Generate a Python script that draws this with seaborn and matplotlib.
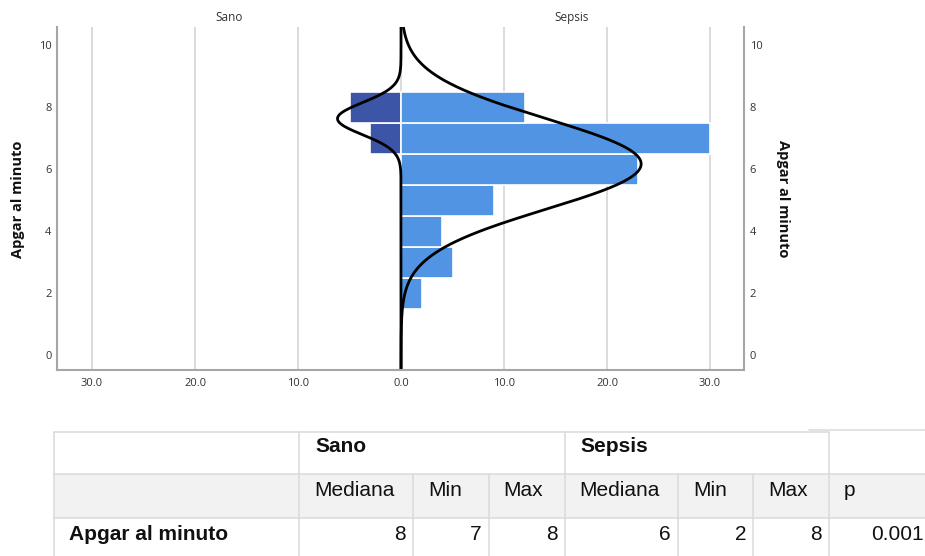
import numpy as np
import pandas as pd
import matplotlib
matplotlib.use("Agg")
import matplotlib.pyplot as plt
import seaborn as sns
from matplotlib.patches import Rectangle

# Apgar score counts per group
apgar_sano = [7, 8]
n_sano = [3, 5]
apgar_sepsis = [2, 3, 4, 5, 6, 7, 8]
n_sepsis = [2, 5, 4, 9, 23, 30, 12]

group_titles = ["Sano", "Sepsis"]
axis_label = "Apgar al minuto"
x_ticks = [-30, -20, -10, 0, 10, 20, 30]
y_ticks = [0, 2, 4, 6, 8, 10]

# Summary table
table_groups = ["Sano", "Sepsis"]
table_subheader = ["Mediana", "Min", "Max", "Mediana", "Min", "Max", "p"]
table_row_label = "Apgar al minuto"
table_values = ["8", "7", "8", "6", "2", "8", "0.001"]

sns.set_theme(style="white")
plt.rcParams["font.family"] = ["Open Sans", "DejaVu Sans"]

W, H = 925, 556
fig = plt.figure(figsize=(W / 100, H / 100), dpi=100)


def fx(px):
    return px / W


def fy(py):
    return 1 - py / H


ax = fig.add_axes([fx(57), fy(370), fx(744) - fx(57), fy(27) - fy(370)])

dark = "#3d55a6"
light = "#5194e3"

sano_df = pd.DataFrame({"apgar": apgar_sano, "n": [-c for c in n_sano]})
sepsis_df = pd.DataFrame({"apgar": apgar_sepsis, "n": n_sepsis})

for df, col in ((sano_df, dark), (sepsis_df, light)):
    sns.barplot(data=df, x="n", y="apgar", orient="y", native_scale=True,
                width=1.0, color=col, saturation=1, edgecolor="white",
                linewidth=1.2, errorbar=None, ax=ax)

# Fitted normal curves, scaled to counts (bin width 1)
ylo, yhi = -0.48, 10.58
grid = np.linspace(ylo, yhi, 500)


def normal_curve(scores, counts):
    s = np.repeat(scores, counts).astype(float)
    mu, sd = s.mean(), s.std(ddof=1)
    return len(s) * np.exp(-0.5 * ((grid - mu) / sd) ** 2) / (sd * np.sqrt(2 * np.pi))


curves = pd.DataFrame({
    "apgar": np.concatenate([grid, grid]),
    "n": np.concatenate([-normal_curve(apgar_sano, n_sano),
                         normal_curve(apgar_sepsis, n_sepsis)]),
    "grupo": [group_titles[0]] * len(grid) + [group_titles[1]] * len(grid),
})
sns.lineplot(data=curves, x="n", y="apgar", units="grupo", estimator=None,
             sort=False, orient="y", color="black", linewidth=2.0, ax=ax)

ax.set_xlim(-33.4, 33.3)
ax.set_ylim(ylo, yhi)
ax.set_xticks(x_ticks)
ax.set_xticklabels([f"{abs(t):.1f}" for t in x_ticks])
ax.set_yticks(y_ticks)
ax.set_yticklabels([str(t) for t in y_ticks])
ax.set_xlabel("")
ax.set_ylabel("")
ax.grid(axis="x", color="#d4d4d4", linewidth=1.2)
ax.grid(axis="y", visible=False)
ax.set_axisbelow(True)
ax.tick_params(axis="x", length=0, labelsize=8, labelcolor="#333333", pad=6)
ax.tick_params(axis="y", length=0, labelsize=8, labelcolor="#333333", pad=4,
               labelleft=True, labelright=True)
for side in ("left", "right", "bottom"):
    ax.spines[side].set_color("#a6a6a6")
    ax.spines[side].set_linewidth(1.5)
ax.spines["top"].set_visible(False)

fig.text(fx(229), fy(21), group_titles[0], ha="center", va="baseline",
         fontsize=8.5, color="#333333")
fig.text(fx(572), fy(21), group_titles[1], ha="center", va="baseline",
         fontsize=8.5, color="#333333")
fig.text(fx(18), fy(199), axis_label, rotation=90, ha="center", va="center",
         fontsize=10.5, fontweight="bold", color="#111111")
fig.text(fx(783), fy(199), axis_label, rotation=270, ha="center", va="center",
         fontsize=10.5, fontweight="bold", color="#111111")

# Summary table below the chart, in pixel coordinates
tab = fig.add_axes([0, 0, 1, 1])
tab.set_xlim(0, W)
tab.set_ylim(H, 0)
tab.axis("off")

cols = [54, 299, 413, 488.5, 564.5, 678, 753, 829, 931]
rows = [431.5, 474, 518, 556]
line_c = "#dadada"
tfont = ["Liberation Sans", "DejaVu Sans"]

tab.add_patch(Rectangle((cols[0], rows[1]), W - cols[0], rows[2] - rows[1],
                        facecolor="#f2f2f2", edgecolor="none"))
lw = 1.1
tab.plot([cols[0], cols[7]], [rows[0], rows[0]], color=line_c, lw=lw)
tab.plot([809, W], [430, 430], color=line_c, lw=lw)
for r in rows[1:3]:
    tab.plot([cols[0], W], [r, r], color=line_c, lw=lw)
for c in (cols[0], cols[1], cols[4], cols[7]):
    tab.plot([c, c], [rows[0], H], color=line_c, lw=lw)
for c in (cols[2], cols[3], cols[5], cols[6]):
    tab.plot([c, c], [rows[1], H], color=line_c, lw=lw)

tab.text(cols[1] + 16, 452, table_groups[0], fontsize=15, fontweight="bold",
         family=tfont, va="baseline", ha="left", color="#111111")
tab.text(cols[4] + 16, 452, table_groups[1], fontsize=15, fontweight="bold",
         family=tfont, va="baseline", ha="left", color="#111111")
for i, lab in enumerate(table_subheader):
    tab.text(cols[i + 1] + 15, 496, lab, fontsize=15, family=tfont,
             va="baseline", ha="left", color="#111111")
tab.text(69, 540, table_row_label, fontsize=15, fontweight="bold",
         family=tfont, va="baseline", ha="left", color="#111111")
for i, val in enumerate(table_values):
    tab.text(cols[i + 2] - 7, 540, val, fontsize=15, family=tfont,
             va="baseline", ha="right", color="#111111")

fig.savefig("out.png", dpi=100)
